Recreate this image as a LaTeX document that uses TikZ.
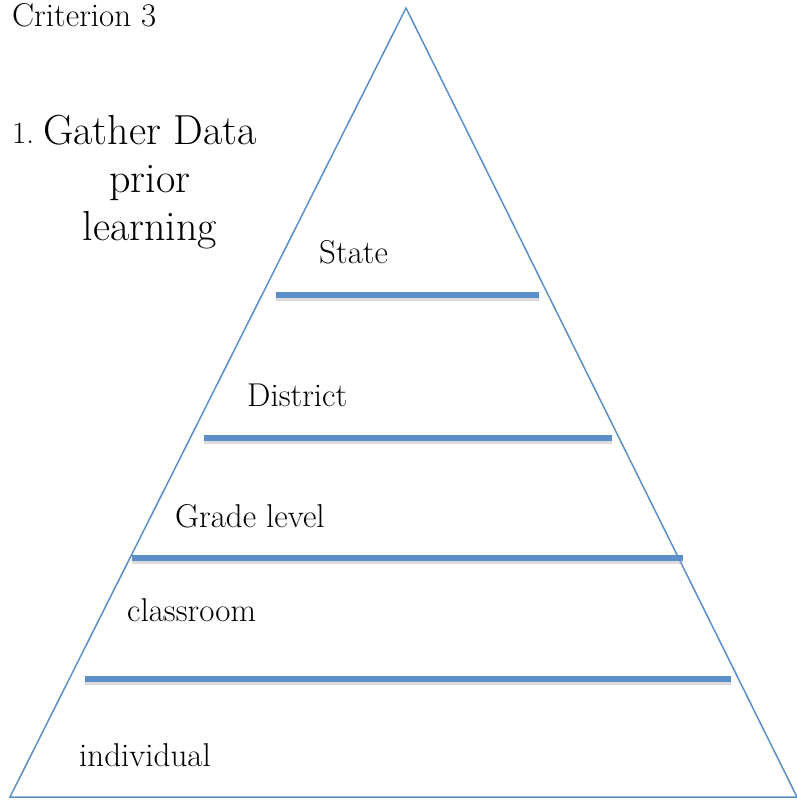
\documentclass[tikz,border=0pt]{standalone}
\definecolor{tierblue}{RGB}{91,143,201}
\tikzset{
  tier/.style={line width=6pt, tierblue},
  tiershade/.style={line width=6pt, black!35, opacity=0.4},
  lbl/.style={anchor=base west, inner sep=0pt, font=\fontsize{33}{38}\selectfont},
}

\begin{document}
\begin{tikzpicture}[x=1pt,y=-1pt]
    \useasboundingbox (0,0) rectangle (797,800);
    \coordinate (apex) at (406,8);
    \coordinate (br) at (797,797);
    \coordinate (bl) at (10,797);
    \draw[tierblue, line width=1.5pt] (apex) -- (br) -- (bl) -- cycle;
    % tier lines
    \coordinate (sl) at (276,295); \coordinate (sr) at (539,295);
    \coordinate (dl) at (204,438); \coordinate (dr) at (612,438);
    \coordinate (gl) at (132,558); \coordinate (gr) at (683,558);
    \coordinate (cl) at (85,679);  \coordinate (cr) at (731,679);
    \foreach \a/\b in {sl/sr, dl/dr, gl/gr, cl/cr} {
        \draw[tiershade] ([yshift=-3pt]\a) -- ([yshift=-3pt]\b);
        \draw[tier] (\a) -- (\b);
    }
    % labels
    \node[lbl] (crit) at (12,27) {Criterion 3};
    \node[lbl, font=\fontsize{31}{36}\selectfont] (num) at (12,143) {1.};
    \node[anchor=base, inner sep=0pt, align=center,
        font=\fontsize{42}{48}\selectfont] (gather) at (150,240)
        {Gather Data\\prior\\learning};
    \node[lbl] (state) at (319,263) {State};
    \node[lbl] (district) at (247,406) {District};
    \node[lbl] (grade) at (175,527) {Grade level};
    \node[lbl] (class) at (127,621) {classroom};
    \node[lbl] (indiv) at (79,766) {individual};
\end{tikzpicture}
\end{document}
